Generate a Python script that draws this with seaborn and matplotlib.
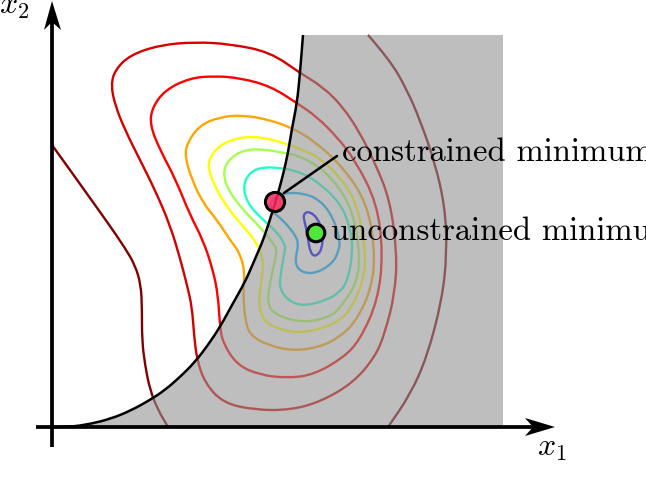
#!/usr/bin/env python3
"""Constrained vs unconstrained minimum, contours traced from the picture (pixel coords)."""

import matplotlib
matplotlib.use('Agg')
import matplotlib.pyplot as plt
from matplotlib.patches import PathPatch
from matplotlib.path import Path
import pandas as pd
import seaborn as sns

# feasible set boundary
curve_x = [52, 70, 90, 110, 130, 150, 165, 180, 195, 208, 220, 232, 245, 252, 258, 264, 272, 277, 283, 288, 292, 297, 300, 303]
curve_y = [427, 427, 424, 419, 411, 400, 390, 377, 362, 345, 327, 305, 282, 266, 252, 238, 213, 197, 175, 153, 128, 103, 73, 35]

# gray region corners on the right
region_x = [503, 503]
region_y = [35, 427]

# contours from outer to inner
c1a_x = [52, 70, 90, 110, 125, 135, 141, 142, 142, 145, 150, 158, 168]
c1a_y = [145, 170, 198, 226, 248, 265, 285, 310, 340, 365, 390, 410, 427]
c1b_x = [368, 390, 407, 420, 435, 445, 447, 442, 427, 410, 388]
c1b_y = [35, 60, 90, 120, 163, 207, 253, 300, 357, 395, 427]
c2_x = [300, 270, 230, 195, 160, 130, 115, 111, 115, 125, 140, 155, 170, 180, 187, 192, 194, 197, 205, 223, 255, 290, 320, 353, 375, 385, 395, 397, 390, 375, 360, 343, 323, 300]
c2_y = [73, 52, 44, 42, 45, 55, 70, 85, 105, 130, 160, 190, 225, 258, 285, 307, 335, 360, 383, 403, 410, 410, 402, 383, 357, 333, 293, 253, 200, 163, 133, 107, 87, 73]
c3_x = [297, 270, 240, 215, 190, 165, 152, 150, 160, 175, 190, 203, 213, 218, 220, 223, 237, 260, 287, 313, 343, 360, 378, 383, 377, 355, 337, 317, 297]
c3_y = [103, 86, 78, 76, 78, 90, 108, 125, 150, 178, 215, 240, 270, 295, 327, 343, 365, 375, 378, 375, 358, 340, 300, 253, 203, 160, 137, 117, 103]
c4_x = [292, 270, 243, 220, 200, 187, 185, 192, 203, 217, 230, 240, 245, 243, 245, 250, 267, 293, 320, 340, 357, 372, 375, 367, 343, 313, 292]
c4_y = [128, 120, 115, 117, 125, 143, 157, 180, 203, 220, 240, 253, 273, 290, 320, 335, 345, 351, 347, 337, 320, 287, 250, 203, 167, 140, 128]
c5_x = [290, 263, 240, 220, 210, 208, 215, 227, 240, 255, 263, 263, 260, 259, 267, 297, 327, 340, 350, 363, 366, 357, 340, 322, 310, 290]
c5_y = [145, 137, 137, 145, 157, 168, 187, 207, 223, 240, 257, 270, 290, 310, 325, 334, 327, 320, 310, 283, 253, 203, 177, 160, 153, 145]
c6_x = [284, 263, 243, 228, 223, 228, 243, 260, 273, 277, 275, 270, 267, 275, 303, 330, 340, 357, 360, 353, 340, 320, 297, 284]
c6_y = [153, 149, 150, 160, 173, 190, 210, 227, 243, 250, 260, 283, 303, 315, 323, 317, 308, 283, 253, 213, 188, 167, 155, 153]
c7_x = [280, 263, 250, 243, 247, 263, 278, 285, 285, 280, 280, 290, 305, 327, 340, 348, 353, 350, 340, 313, 293, 280]
c7_y = [168, 167, 172, 185, 203, 220, 233, 245, 250, 277, 290, 302, 306, 300, 292, 280, 250, 227, 202, 178, 170, 168]
c8_x = [285, 303, 320, 333, 340, 339, 333, 317, 303, 295, 297, 298, 297, 283, 272, 270, 277, 285]
c8_y = [193, 193, 200, 217, 240, 250, 263, 273, 273, 265, 250, 247, 237, 220, 212, 203, 196, 193]
c9_x = [303, 308, 317, 323, 322, 315, 310, 308, 305, 303]
c9_y = [215, 211, 217, 232, 250, 257, 252, 238, 223, 215]

contour_colors = ['#800000', '#800000', '#d40000', '#ff0000', '#ffa500', '#ffff00', '#a4ff50', '#20ffc8', '#00b0ff', '#0000ff']
contour_lines = [(c1a_x, c1a_y), (c1b_x, c1b_y), (c2_x, c2_y), (c3_x, c3_y), (c4_x, c4_y), (c5_x, c5_y), (c6_x, c6_y), (c7_x, c7_y), (c8_x, c8_y), (c9_x, c9_y)]

constrained_min = (275, 202)
unconstrained_min = (316, 233)
leader_x = [284, 337]
leader_y = [193, 156]

LABEL_CON = 'constrained minimum'
LABEL_UNC = 'unconstrained minimum'

sns.set_theme(style='white')
plt.rcParams['mathtext.fontset'] = 'cm'
plt.rcParams['axes.unicode_minus'] = False

fig = plt.figure(figsize=(6.46, 4.79), dpi=100)
ax = fig.add_axes([0, 0, 1, 1])


def draw_smooth(xs, ys, color, width, zorder):
    # traced points act as quadratic control points, so the corners get rounded
    pts = list(zip(xs, ys))
    mids = [((a[0] + b[0]) / 2, (a[1] + b[1]) / 2) for a, b in zip(pts, pts[1:])]
    if pts[0] == pts[-1]:
        verts = [mids[-1]]
        codes = [Path.MOVETO]
        for i in range(len(mids)):
            verts += [pts[i], mids[i]]
            codes += [Path.CURVE3, Path.CURVE3]
    else:
        verts = [pts[0]]
        codes = [Path.MOVETO]
        for i in range(1, len(pts) - 1):
            verts += [pts[i], mids[i]]
            codes += [Path.CURVE3, Path.CURVE3]
        verts.append(pts[-1])
        codes.append(Path.LINETO)
    ax.add_patch(PathPatch(Path(verts, codes), fc='none', ec=color, lw=width, zorder=zorder))


# contours first, the gray veil goes on top of them
for (xs, ys), color in zip(contour_lines, contour_colors):
    draw_smooth(xs, ys, color, 1.7, 1)

ax.fill(curve_x + region_x, curve_y + region_y, color='#939393', alpha=0.6, lw=0, zorder=2)

draw_smooth(curve_x, curve_y, 'black', 1.8, 3)

leader = pd.DataFrame({'x': leader_x, 'y': leader_y})
sns.lineplot(data=leader, x='x', y='y', sort=False, estimator=None, color='black',
             linewidth=1.8, zorder=3, ax=ax, legend=False)

# axes with barbed arrow heads
ax.plot([36, 540], [427, 427], color='black', lw=2.7, zorder=3, solid_capstyle='butt')
ax.plot([52, 52], [447, 20], color='black', lw=2.7, zorder=3, solid_capstyle='butt')
ax.fill([555, 525, 533, 525], [427, 418, 427, 436], color='black', lw=0, zorder=3)
ax.fill([52, 44, 52, 61], [1, 30, 22, 30], color='black', lw=0, zorder=3)

# the two minima
sns.scatterplot(x=[constrained_min[0]], y=[constrained_min[1]], s=190, color='#ff2a5f',
                alpha=0.85, linewidth=0, zorder=4, ax=ax, legend=False)
sns.scatterplot(x=[unconstrained_min[0]], y=[unconstrained_min[1]], s=160, color='#50e63c',
                linewidth=0, zorder=4, ax=ax, legend=False)
ax.scatter(*constrained_min, s=190, facecolors='none', edgecolors='black', linewidths=2.2, zorder=5)
ax.scatter(*unconstrained_min, s=160, facecolors='none', edgecolors='black', linewidths=2.2, zorder=5)

ax.set_xlim(0, 646)
ax.set_ylim(479, 0)
ax.axis('off')

ax.text(342, 161, LABEL_CON, family='cmr10', fontsize=23.5, color='black', va='baseline', ha='left')
ax.text(331, 240, LABEL_UNC, family='cmr10', fontsize=23.5, color='black', va='baseline', ha='left')
ax.text(537, 456, r'$x_1$', fontsize=23, color='black', va='baseline', ha='left')
ax.text(29, 14, r'$x_2$', fontsize=23, color='black', va='baseline', ha='right')

fig.savefig('out.png', dpi=100)
